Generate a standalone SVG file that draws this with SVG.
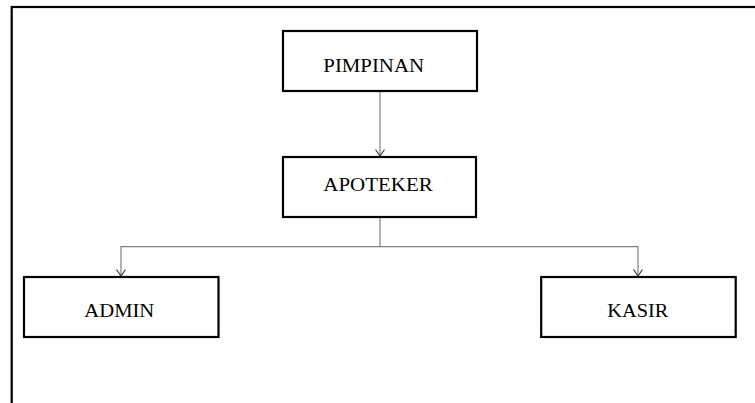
<svg xmlns="http://www.w3.org/2000/svg" width="755" height="403" viewBox="0 0 755 403">
<style>
.box{fill:#fff;stroke:#000;stroke-width:2.2}
.lbl{font-family:"Liberation Serif","Times New Roman",serif;font-size:19.5px;fill:#000;text-anchor:start}
.con{fill:none;stroke:#7f7f7f;stroke-width:1.2}
.head{fill:none;stroke:#333;stroke-width:1.1}
</style>
<rect x="0" y="0" width="755" height="403" fill="#fff"/>
<rect x="11.7" y="7" width="800" height="500" fill="none" stroke="#000" stroke-width="2.2"/>
<g id="connectors">
<line class="con" x1="380" y1="91" x2="380" y2="156"/>
<path class="head" d="M375.5 149.5 L380 156 L384.5 149.5"/>
<path class="con" d="M380 217 V246.7 H121 V276"/>
<path class="con" d="M380 246.7 H638 V276"/>
<path class="head" d="M116.5 269.5 L121 276 L125.5 269.5"/>
<path class="head" d="M633.5 269.5 L638 276 L642.5 269.5"/>
</g>
<g id="pimpinan">
<rect class="box" x="283" y="31" width="194" height="60"/>
<text class="lbl" x="323.3" y="71.7" textLength="100.7" lengthAdjust="spacingAndGlyphs">PIMPINAN</text>
</g>
<g id="apoteker">
<rect class="box" x="283" y="157" width="193" height="60"/>
<text class="lbl" x="323.3" y="191" textLength="109.4" lengthAdjust="spacingAndGlyphs">APOTEKER</text>
</g>
<g id="admin">
<rect class="box" x="24" y="277" width="194.5" height="60"/>
<text class="lbl" x="84.3" y="316.7" textLength="70" lengthAdjust="spacingAndGlyphs">ADMIN</text>
</g>
<g id="kasir">
<rect class="box" x="541.2" y="277" width="194.5" height="60"/>
<text class="lbl" x="607.3" y="316.7" textLength="61" lengthAdjust="spacingAndGlyphs">KASIR</text>
</g>
</svg>
